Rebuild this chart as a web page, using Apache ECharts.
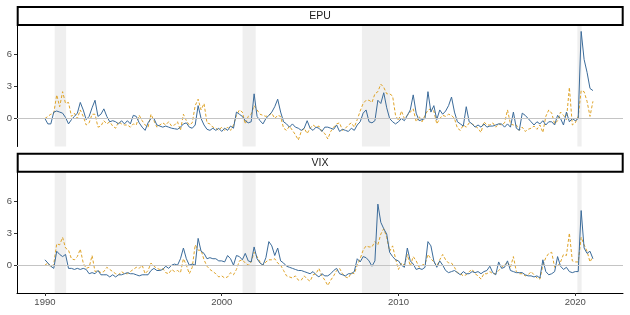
<!DOCTYPE html>
<html>
<head>
<meta charset="utf-8">
<script src="https://cdn.jsdelivr.net/npm/echarts@6/dist/echarts.min.js"></script>
<style>html,body{margin:0;padding:0;background:#fff;}#c{width:630px;height:315px;}</style>
</head>
<body>
<div id="c"></div>
<script>
// Time axis: values every 2 months from 1990.0 to 2021.0
const startYear = 1990;
const perYear = 6;
const panels = ['EPU', 'VIX'];
const xTicks = [1990, 2000, 2010, 2020];
const yTicks = [0, 3, 6];
const recessions = [[1990.55, 1991.2], [2001.18, 2001.92], [2007.93, 2009.52], [2020.12, 2020.36]];

// EPU panel, solid blue series
const epuSolid = [
  0.0,-0.5,-0.5,0.6,0.7,0.6,
  0.5,0.1,-0.5,-0.1,0.2,0.5,
  1.5,0.8,-0.1,0.2,1.0,1.7,
  0.2,0.4,0.9,0.2,-0.3,-0.2,
  -0.3,-0.5,-0.2,-0.5,-0.2,-0.5,
  0.3,0.2,-0.4,-0.8,-1.1,-0.4,
  0.0,0.0,-0.6,-0.7,-0.8,-0.7,
  -0.8,-0.9,-0.95,-1.0,-0.8,-0.5,
  -0.4,-0.8,-0.9,-0.6,1.2,0.0,
  -0.6,-1.0,-1.1,-0.9,-1.1,-0.9,
  -1.2,-0.9,-1.1,-0.7,-0.9,0.6,
  0.4,0.2,-0.2,-0.4,-0.3,2.3,
  0.2,-0.2,-0.5,0.0,0.3,0.6,
  1.1,1.8,0.6,-0.3,-0.5,-0.8,
  -0.5,-0.8,-0.9,-1.1,-0.9,-0.2,
  -0.9,-1.1,-0.8,-0.9,-1.2,-0.8,
  -0.8,-0.9,-1.0,-0.6,-1.2,-1.0,
  -1.1,-1.2,-0.9,-1.1,-0.6,-0.3,
  0.5,0.8,-0.3,-0.4,-0.2,1.7,
  1.4,2.4,1.0,0.0,-0.3,-0.5,
  -0.3,0.0,-0.2,0.3,0.8,2.2,
  0.5,-0.2,-0.1,0.0,2.5,0.6,
  1.2,-0.1,0.8,0.4,0.7,1.2,
  2.0,0.6,-0.3,-0.5,-0.7,1.1,
  -0.3,-0.5,-0.8,-0.6,-0.8,-0.5,
  -0.8,-0.7,-0.7,-0.6,-0.5,-0.5,
  -0.8,-0.5,-0.8,0.6,-0.9,-1.1,
  0.5,0.3,0.0,-0.3,-0.6,-0.3,
  -0.5,-0.2,-0.6,-0.3,-0.3,-0.6,
  0.3,0.0,-0.6,0.6,-0.3,0.0,
  -0.2,0.0,8.1,5.5,4.3,2.8,
  2.6
];
// EPU panel, dashed orange series
const epuDashed = [
  0.0,0.2,0.4,0.5,2.2,1.1,
  2.5,1.4,1.5,0.2,0.5,0.0,
  0.8,0.2,-0.6,-0.4,0.4,0.4,
  -0.8,-0.7,-0.2,-0.5,-0.3,-0.7,
  -0.9,-0.3,-0.5,-0.6,-0.6,-0.8,
  -0.5,-0.6,0.3,-0.2,-0.6,-0.8,
  0.4,-0.2,-0.8,-0.6,-0.4,-0.6,
  -0.3,-0.7,-0.6,-0.3,-1.1,0.4,
  -0.2,-0.6,-0.4,1.2,1.8,0.8,
  1.4,-0.4,-0.5,-0.8,-0.9,-1.1,
  -0.8,-1.1,-0.8,-1.1,-0.6,0.3,
  0.8,0.6,-0.5,0.2,0.4,1.2,
  0.8,0.4,0.3,0.2,0.3,0.5,
  0.0,0.3,0.2,-0.9,-1.1,-0.7,
  -1.1,-1.5,-2.0,-1.2,-0.9,-1.4,
  -0.9,-0.6,-0.8,-0.7,-1.2,-1.4,
  -1.9,-1.2,-0.8,-0.5,-0.4,-1.1,
  -0.9,-0.6,-0.4,-0.8,-0.1,0.7,
  1.4,1.7,1.7,1.5,2.3,2.5,
  3.2,2.9,2.3,2.3,2.1,0.3,
  -0.2,0.7,0.0,0.3,0.6,0.9,
  -0.3,0.2,-0.3,0.3,0.8,0.9,
  0.7,-0.5,0.0,0.3,0.2,0.4,
  0.3,0.0,-0.9,-1.1,-0.6,-0.8,
  -0.4,-0.5,-0.7,-0.9,-1.3,-0.3,
  -0.6,-0.6,-0.4,-0.8,-0.5,-0.6,
  -0.4,0.8,-0.5,-0.6,-0.6,-1.1,
  -0.8,-1.2,-1.0,-0.9,-0.7,-1.0,
  -0.6,-1.3,0.2,0.8,0.5,-0.5,
  -0.2,0.6,0.3,-0.1,2.9,-0.6,
  -0.4,0.2,2.6,2.5,1.6,0.2,
  1.6
];
// VIX panel, solid blue series
const vixSolid = [
  0.5,0.2,-0.1,-0.3,1.3,1.0,
  0.8,1.0,-0.3,-0.3,-0.4,-0.3,
  -0.4,-0.3,-0.4,-0.8,-0.7,-0.8,
  -0.5,-0.9,-0.9,-0.9,-1.1,-0.9,
  -1.1,-0.9,-0.9,-0.8,-0.7,-0.8,
  -0.8,-0.9,-1.0,-0.9,-0.9,-0.9,
  -0.5,-0.3,-0.5,-0.5,-0.4,-0.1,
  -0.3,0.0,0.1,0.0,0.6,1.6,
  0.6,0.0,0.1,0.0,2.5,1.3,
  1.1,0.6,0.7,0.6,0.6,0.4,
  0.4,0.3,0.9,0.6,0.0,0.9,
  0.8,0.5,1.1,0.4,0.3,1.7,
  0.6,0.2,0.0,0.7,2.2,1.8,
  0.9,1.6,0.4,0.2,-0.1,-0.2,
  -0.3,-0.4,-0.5,-0.5,-0.6,-0.7,
  -0.8,-0.6,-0.9,-1.1,-0.8,-1.0,
  -1.0,-0.8,-0.5,-0.3,-0.8,-0.9,
  -1.0,-0.8,-0.8,-0.6,0.6,0.3,
  0.8,0.7,0.4,-0.1,0.4,5.7,
  4.0,3.4,2.9,1.2,0.8,0.5,
  0.4,0.0,-0.2,1.6,0.4,0.1,
  -0.4,-0.3,-0.4,-0.2,2.2,1.8,
  0.4,-0.2,0.4,0.0,-0.5,-0.7,
  -0.6,-0.5,-0.7,-0.9,-0.6,-0.8,
  -0.8,-0.6,-0.7,-0.6,-0.8,-0.6,
  -0.5,-0.1,-0.7,-0.9,0.3,-0.3,
  -0.2,0.4,-0.5,-0.6,-0.7,-0.7,
  -0.7,-0.9,-1.0,-1.0,-1.1,-1.0,
  -1.2,0.5,-0.6,-0.9,-0.8,-0.6,
  0.8,-0.1,-0.4,-0.2,-0.6,-0.7,
  -0.6,-0.6,5.1,1.6,1.1,1.3,
  0.6
];
// VIX panel, dashed orange series
const vixDashed = [
  0.0,0.2,-0.2,0.1,2.0,1.9,
  2.6,1.6,1.4,0.6,0.5,0.8,
  1.5,0.2,-0.3,-0.2,0.9,-0.6,
  -0.5,-0.7,-0.6,-0.2,-0.4,-0.6,
  -0.8,-0.9,-0.6,-0.8,-0.8,-0.6,
  -0.4,-0.2,-0.3,0.0,-0.8,-0.5,
  0.2,-0.1,-0.3,-0.4,-0.3,-0.7,
  -0.8,-0.4,-0.6,-0.5,-0.7,0.6,
  0.0,-0.8,-0.2,1.9,1.4,1.4,
  0.5,-0.1,-0.4,-0.6,-0.8,-1.1,
  -1.0,-1.2,-1.1,-0.7,-0.9,-0.4,
  0.4,0.5,0.2,0.0,0.3,1.2,
  0.8,0.3,0.0,0.3,0.5,0.5,
  0.6,0.2,0.0,-0.5,-1.0,-1.1,
  -1.2,-1.0,-1.4,-1.4,-1.0,-1.3,
  -1.5,-0.9,-0.8,-0.3,-1.0,-1.4,
  -1.9,-1.4,-1.0,-0.5,-0.3,-0.8,
  -1.1,-1.2,-0.7,-0.8,0.0,0.6,
  1.4,1.8,1.7,1.7,2.2,1.9,
  2.9,3.4,2.6,1.3,1.8,0.6,
  -0.4,0.2,0.0,1.0,-0.1,0.8,
  0.4,-0.2,0.0,0.1,1.0,0.6,
  0.3,-0.1,0.5,1.0,0.5,0.2,
  0.2,-0.2,-0.7,-0.8,-1.0,-0.9,
  -0.6,-0.4,-0.8,-1.0,-1.3,-0.8,
  -0.8,-0.6,-0.8,-0.8,-0.5,-0.2,
  0.0,0.3,-0.2,0.8,-0.6,-0.8,
  -0.8,-1.0,-0.9,-0.6,-0.9,-1.2,
  -1.3,0.0,0.7,1.1,1.2,-0.2,
  -0.1,0.3,1.0,0.9,3.0,0.4,
  0.3,0.3,2.6,1.9,1.3,0.3,
  0.8
];

const BLUE = '#3B6B9A';
const ORANGE = '#DFA42A';
const FONT = 'Liberation Sans, Arial, sans-serif';

function toPairs(arr) { return arr.map((v, i) => [startYear + i / perYear, v]); }

const grids = [
  { left: 17, right: 7, top: 25, height: 121.5 },
  { left: 17, right: 7, top: 172, height: 121 }
];

const xAxes = grids.map((g, i) => ({
  type: 'value', gridIndex: i, min: 1988.42, max: 2022.7,
  axisLine: { show: i === 1, onZero: false, lineStyle: { color: '#000', width: 1 } },
  axisTick: { show: i === 1, length: 3, customValues: xTicks, lineStyle: { color: '#333' } },
  axisLabel: { show: i === 1, customValues: xTicks, formatter: v => String(Math.round(v)),
    color: '#4d4d4d', fontSize: 9.5, fontFamily: FONT, margin: 4 },
  splitLine: { show: false }
}));

const yAxes = grids.map((g, i) => ({
  type: 'value', gridIndex: i, min: -2.6, max: 8.7,
  axisLine: { show: true, onZero: false, lineStyle: { color: '#000', width: 1 } },
  axisTick: { show: true, length: 3, customValues: yTicks, lineStyle: { color: '#333' } },
  axisLabel: { customValues: yTicks, formatter: v => String(Math.round(v)),
    color: '#4d4d4d', fontSize: 9.5, fontFamily: FONT, margin: 5 },
  splitLine: { show: false }
}));

const panelData = [[epuSolid, epuDashed], [vixSolid, vixDashed]];
const series = [];
panelData.forEach((pd, i) => {
  series.push({
    type: 'line', xAxisIndex: i, yAxisIndex: i, z: 1, silent: true,
    data: [[1990, 0]], symbol: 'none', lineStyle: { opacity: 0 },
    markArea: {
      silent: true, itemStyle: { color: '#efefef' },
      data: recessions.map(r => [{ xAxis: r[0] }, { xAxis: r[1] }])
    },
    markLine: {
      silent: true, symbol: 'none', label: { show: false },
      lineStyle: { color: '#c4c4c4', width: 1, type: 'solid' },
      data: [{ yAxis: 0 }]
    }
  });
  series.push({
    type: 'line', xAxisIndex: i, yAxisIndex: i, z: 3, data: toPairs(pd[1]),
    symbol: 'none', lineStyle: { color: ORANGE, width: 1, type: [3, 2] }
  });
  series.push({
    type: 'line', xAxisIndex: i, yAxisIndex: i, z: 4, data: toPairs(pd[0]),
    symbol: 'none', lineStyle: { color: BLUE, width: 1 }
  });
});

const strips = [{ y: 7, h: 18 }, { y: 153.7, h: 18 }];
const graphic = [];
strips.forEach((s, i) => {
  graphic.push({ type: 'rect', z: 10, shape: { x: 17.7, y: s.y, width: 605, height: s.h },
    style: { fill: '#fff', stroke: '#000', lineWidth: 2 } });
  graphic.push({ type: 'text', z: 11, x: 320, y: s.y + s.h / 2,
    style: { text: panels[i], fill: '#1a1a1a', font: '10.5px ' + FONT, textAlign: 'center', textVerticalAlign: 'middle' } });
});

const chart = echarts.init(document.getElementById('c'), null, { renderer: 'canvas' });
chart.setOption({
  animation: false,
  backgroundColor: '#fff',
  grid: grids,
  xAxis: xAxes,
  yAxis: yAxes,
  series: series,
  graphic: graphic
});
</script>
</body>
</html>
